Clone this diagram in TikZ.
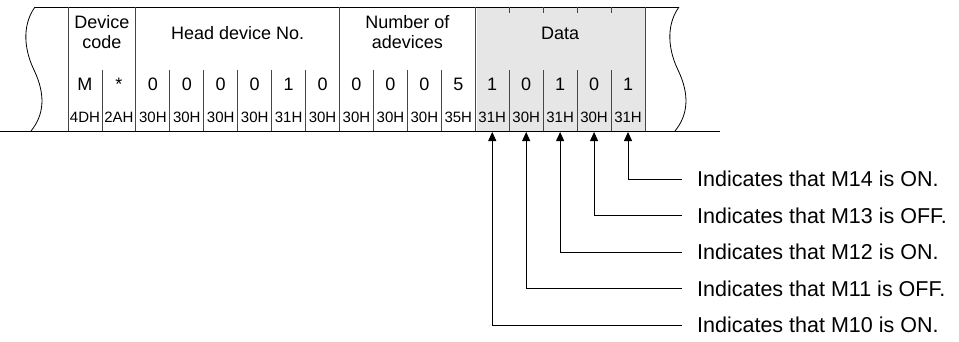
\documentclass[tikz,border=0pt]{standalone}
\usepackage{fontspec}
\setmainfont{Liberation Sans}
\usetikzlibrary{arrows.meta, calc}
\definecolor{cData}{RGB}{230,230,230}
\definecolor{cRule}{RGB}{70,70,70}
\tikzset{
	frame/.style    ={draw=black, line width=0.8pt},
	sepline/.style  ={draw=cRule, line width=0.8pt},
	grouptext/.style={font=\fontsize{18}{20}\selectfont, align=center, inner sep=0pt},
	valtext/.style  ={font=\fontsize{18}{20}\selectfont, inner sep=0pt},
	hextext/.style  ={font=\fontsize{15}{17}\selectfont, inner sep=0pt},
	note/.style     ={font=\fontsize{21.5}{24}\selectfont, anchor=west, inner sep=0pt},
	pointer/.style  ={{Triangle[length=9pt,width=8pt]}-, line width=0.8pt},
}

\begin{document}
\begin{tikzpicture}[x=1pt, y=-1pt]
	\useasboundingbox (0,0) rectangle (959,341);
	\def\cw{33.94}
	% data field
	\fill[cData] (477,7) rectangle (645,131);
	% frame with cut ends
	\draw[frame] (35,7) -- (679,7);
	\draw[frame] (0,131) -- (720,131);
	\draw[frame] (35,7) .. controls (24,22) and (22,45) .. (34,70) .. controls (46,95) and (44,115) .. (31,131);
	\draw[frame] (679,7) .. controls (668,22) and (666,45) .. (678,70) .. controls (690,95) and (688,115) .. (675,131);
	\foreach \k in {0,2,8,12,17}
		\draw[sepline] ({68+\k*\cw},7) -- ({68+\k*\cw},131);
	\foreach \k in {1,3,4,5,6,7,9,10,11,13,14,15,16}
		\draw[sepline] ({68+\k*\cw},70) -- ({68+\k*\cw},131);
	\foreach \k in {13,14,15,16}
		\draw[sepline] ({68+\k*\cw},7) -- ({68+\k*\cw},13);
	% field names
	\node[grouptext] (gcode) at ({68+1*\cw},32) {Device\\code};
	\node[grouptext] (ghead) at ({68+5*\cw},33) {Head device No.};
	\node[grouptext] (gnum)  at ({68+10*\cw},32) {Number of\\adevices};
	\node[grouptext] (gdata) at ({68+14.5*\cw},33) {Data};
	% characters and codes
	\foreach \v/\h [count=\i from 0] in {M/4DH, */2AH, 0/30H, 0/30H, 0/30H, 0/30H, 1/31H, 0/30H,
		0/30H, 0/30H, 0/30H, 5/35H, 1/31H, 0/30H, 1/31H, 0/30H, 1/31H} {
		\node[valtext] (v\i) at ({68+(\i+0.5)*\cw},84) {\v};
		\node[hextext] (h\i) at ({68+(\i+0.5)*\cw},117) {\h};
		\coordinate (b\i) at ({68+(\i+0.5)*\cw},132);
	}
	% notes
	\node[note] (m14) at (697,179) {Indicates that M14 is ON.};
	\node[note] (m13) at (697,215.5) {Indicates that M13 is OFF.};
	\node[note] (m12) at (697,252) {Indicates that M12 is ON.};
	\node[note] (m11) at (697,288.5) {Indicates that M11 is OFF.};
	\node[note] (m10) at (697,325) {Indicates that M10 is ON.};
	\draw[pointer] (b16) |- ([xshift=-15pt]m14.west);
	\draw[pointer] (b15) |- ([xshift=-15pt]m13.west);
	\draw[pointer] (b14) |- ([xshift=-15pt]m12.west);
	\draw[pointer] (b13) |- ([xshift=-15pt]m11.west);
	\draw[pointer] (b12) |- ([xshift=-15pt]m10.west);
\end{tikzpicture}
\end{document}
